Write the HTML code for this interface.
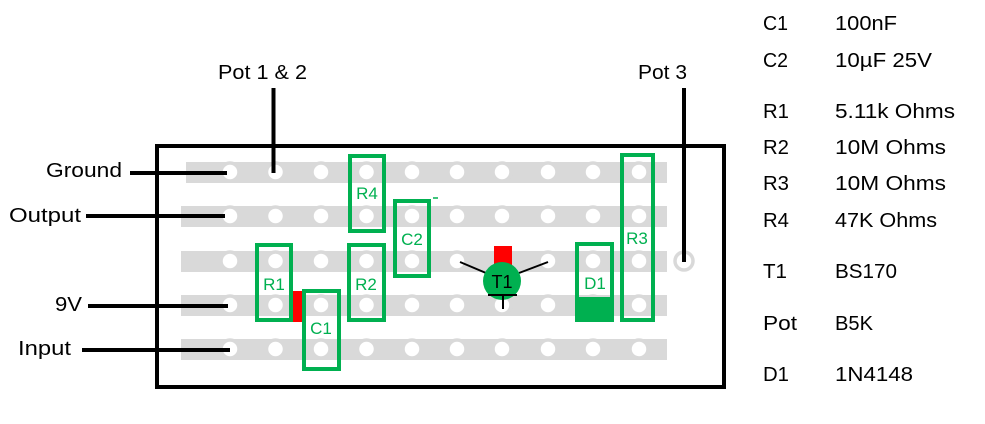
<!DOCTYPE html>
<html><head><meta charset="utf-8"><style>
html,body{margin:0;padding:0;background:#fff;}
svg{display:block;}
text{font-family:"Liberation Sans",sans-serif;}
</style></head><body>
<svg width="985" height="424" viewBox="0 0 985 424" xmlns="http://www.w3.org/2000/svg">
<rect x="157" y="146" width="567" height="241" fill="#fff" stroke="#000" stroke-width="4"/>
<g fill="#d9d9d9">
<rect x="186" y="162" width="481" height="21"/>
<rect x="181" y="206" width="486" height="21"/>
<rect x="181" y="251" width="486" height="21"/>
<rect x="181" y="295" width="486" height="21"/>
<rect x="181" y="339" width="486" height="21"/>
</g>
<g fill="#fff" stroke="#d9d9d9" stroke-width="3.5">
<circle cx="230" cy="172" r="9"/><circle cx="275.5" cy="172" r="9"/><circle cx="321" cy="172" r="9"/><circle cx="366.5" cy="172" r="9"/><circle cx="412" cy="172" r="9"/><circle cx="457" cy="172" r="9"/><circle cx="502" cy="172" r="9"/><circle cx="548" cy="172" r="9"/><circle cx="593" cy="172" r="9"/><circle cx="639" cy="172" r="9"/>
<circle cx="230" cy="216" r="9"/><circle cx="275.5" cy="216" r="9"/><circle cx="321" cy="216" r="9"/><circle cx="366.5" cy="216" r="9"/><circle cx="412" cy="216" r="9"/><circle cx="457" cy="216" r="9"/><circle cx="502" cy="216" r="9"/><circle cx="548" cy="216" r="9"/><circle cx="593" cy="216" r="9"/><circle cx="639" cy="216" r="9"/>
<circle cx="230" cy="261" r="9"/><circle cx="275.5" cy="261" r="9"/><circle cx="321" cy="261" r="9"/><circle cx="366.5" cy="261" r="9"/><circle cx="412" cy="261" r="9"/><circle cx="457" cy="261" r="9"/><circle cx="502" cy="261" r="9"/><circle cx="548" cy="261" r="9"/><circle cx="593" cy="261" r="9"/><circle cx="639" cy="261" r="9"/>
<circle cx="230" cy="305" r="9"/><circle cx="275.5" cy="305" r="9"/><circle cx="321" cy="305" r="9"/><circle cx="366.5" cy="305" r="9"/><circle cx="412" cy="305" r="9"/><circle cx="457" cy="305" r="9"/><circle cx="502" cy="305" r="9"/><circle cx="548" cy="305" r="9"/><circle cx="593" cy="305" r="9"/><circle cx="639" cy="305" r="9"/>
<circle cx="230" cy="349" r="9"/><circle cx="275.5" cy="349" r="9"/><circle cx="321" cy="349" r="9"/><circle cx="366.5" cy="349" r="9"/><circle cx="412" cy="349" r="9"/><circle cx="457" cy="349" r="9"/><circle cx="502" cy="349" r="9"/><circle cx="548" cy="349" r="9"/><circle cx="593" cy="349" r="9"/><circle cx="639" cy="349" r="9"/>
<circle cx="684" cy="261" r="9"/>
</g>
<g stroke="#000" stroke-width="4">
<line x1="130" y1="173" x2="227" y2="173"/>
<line x1="86" y1="216" x2="225" y2="216"/>
<line x1="88" y1="306" x2="228" y2="306"/>
<line x1="82" y1="350" x2="230" y2="350"/>
<line x1="273.5" y1="88" x2="273.5" y2="173"/>
<line x1="684" y1="88" x2="684" y2="262"/>
</g>
<rect x="289" y="291" width="13" height="31" fill="#ff0000"/>
<rect x="494" y="246" width="18" height="20" fill="#ff0000"/>
<g fill="none" stroke="#00b050" stroke-width="4">
<rect x="350" y="156" width="34" height="75"/>
<rect x="395" y="201" width="34" height="75"/>
<rect x="257" y="245" width="34" height="75"/>
<rect x="304" y="291" width="35" height="78"/>
<rect x="349" y="245" width="35" height="75"/>
<rect x="622" y="155" width="31" height="165"/>
<rect x="577" y="244" width="35" height="76"/>
</g>
<rect x="575" y="297" width="39" height="25" fill="#00b050"/>
<line x1="433" y1="198" x2="438" y2="198" stroke="#00b050" stroke-width="1.5"/>
<g stroke="#000" stroke-width="2">
<line x1="460" y1="262" x2="486" y2="273"/>
<line x1="548" y1="262" x2="519" y2="273"/>
</g>
<circle cx="502" cy="281" r="19" fill="#00b050"/>
<g stroke="#000" stroke-width="2">
<line x1="488" y1="295" x2="517" y2="295"/>
<line x1="503" y1="295" x2="503" y2="309"/>
</g>
<text x="502" y="288" font-size="18" text-anchor="middle" fill="#000">T1</text>
<g font-size="17" fill="#00b050" text-anchor="middle">
<text x="367" y="199">R4</text>
<text x="412" y="245">C2</text>
<text x="274" y="290">R1</text>
<text x="366" y="290">R2</text>
<text x="321" y="334">C1</text>
<text x="637" y="244">R3</text>
<text x="595" y="289">D1</text>
</g>
<g font-size="20" fill="#000" lengthAdjust="spacingAndGlyphs">
<text x="46" y="177" textLength="76" lengthAdjust="spacingAndGlyphs">Ground</text>
<text x="9" y="222" textLength="72" lengthAdjust="spacingAndGlyphs">Output</text>
<text x="55" y="311" textLength="27" lengthAdjust="spacingAndGlyphs">9V</text>
<text x="18" y="355" textLength="53" lengthAdjust="spacingAndGlyphs">Input</text>
<text x="218" y="79" textLength="89" lengthAdjust="spacingAndGlyphs">Pot 1 &amp; 2</text>
<text x="638" y="79" textLength="49" lengthAdjust="spacingAndGlyphs">Pot 3</text>
<text x="763" y="30" textLength="25" lengthAdjust="spacingAndGlyphs">C1</text><text x="835" y="30" textLength="62" lengthAdjust="spacingAndGlyphs">100nF</text>
<text x="763" y="67" textLength="25" lengthAdjust="spacingAndGlyphs">C2</text><text x="835" y="67" textLength="97" lengthAdjust="spacingAndGlyphs">10µF 25V</text>
<text x="763" y="118" textLength="26" lengthAdjust="spacingAndGlyphs">R1</text><text x="835" y="118" textLength="120" lengthAdjust="spacingAndGlyphs">5.11k Ohms</text>
<text x="763" y="154" textLength="26" lengthAdjust="spacingAndGlyphs">R2</text><text x="835" y="154" textLength="111" lengthAdjust="spacingAndGlyphs">10M Ohms</text>
<text x="763" y="190" textLength="26" lengthAdjust="spacingAndGlyphs">R3</text><text x="835" y="190" textLength="111" lengthAdjust="spacingAndGlyphs">10M Ohms</text>
<text x="763" y="227" textLength="26" lengthAdjust="spacingAndGlyphs">R4</text><text x="835" y="227" textLength="102" lengthAdjust="spacingAndGlyphs">47K Ohms</text>
<text x="763" y="278" textLength="24" lengthAdjust="spacingAndGlyphs">T1</text><text x="835" y="278" textLength="62" lengthAdjust="spacingAndGlyphs">BS170</text>
<text x="763" y="330" textLength="34" lengthAdjust="spacingAndGlyphs">Pot</text><text x="835" y="330" textLength="38" lengthAdjust="spacingAndGlyphs">B5K</text>
<text x="763" y="381" textLength="26" lengthAdjust="spacingAndGlyphs">D1</text><text x="835" y="381" textLength="78" lengthAdjust="spacingAndGlyphs">1N4148</text>
</g>
</svg>
</body></html>
